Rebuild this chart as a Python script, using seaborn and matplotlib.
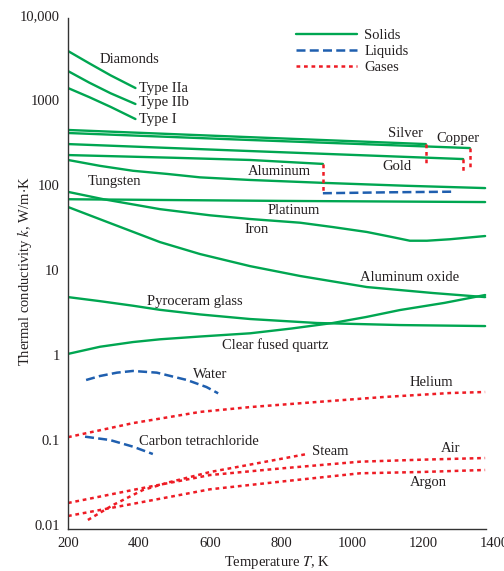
import numpy as np
import matplotlib
matplotlib.use("Agg")
import matplotlib.pyplot as plt
from matplotlib.lines import Line2D
from matplotlib.ticker import FixedLocator, FixedFormatter, NullLocator
import seaborn as sns

# ---------------- data ----------------
# Solids
iia_T = [200, 260, 320, 390]
iia_k = [3770, 2700, 1950, 1383]
iib_T = [200, 260, 320, 390]
iib_k = [2190, 1600, 1200, 897]
typeI_T = [200, 260, 320, 390]
typeI_k = [1383, 1080, 830, 597]

silver_T = [200, 700, 1208]
silver_k = [444, 367, 303]
silver_melt_T = [1208, 1208]
silver_melt_k = [303, 181]

copper_T = [200, 700, 1332]
copper_k = [409, 340, 272]
copper_melt_T = [1332, 1332]
copper_melt_k = [272, 158]

gold_T = [200, 700, 1313]
gold_k = [303, 252, 202]
gold_melt_T = [1313, 1313]
gold_melt_k = [202, 142]

alu_T = [200, 500, 713, 918]
alu_k = [225, 209, 197, 177]
alu_melt_T = [918, 918]
alu_melt_k = [177, 82]

tungsten_T = [200, 290, 383, 479, 572, 713, 918, 1150, 1375]
tungsten_k = [197, 168, 147, 135, 123, 114.6, 106, 98, 92]

platinum_T = [200, 800, 1375]
platinum_k = [68, 65, 63]

iron_T = [200, 300, 459, 600, 713, 854, 946, 1042, 1107, 1163, 1211, 1276, 1375]
iron_k = [83, 68, 52, 44, 39.8, 36, 32, 28, 24.7, 22.1, 22.1, 23.0, 25.1]

alox_T = [200, 318, 459, 572, 713, 854, 1042, 1228, 1375]
alox_k = [55.1, 35.7, 21.3, 15.4, 11.1, 8.5, 6.3, 5.36, 4.8]

pyro_T = [200, 290, 383, 459, 572, 713, 901, 1135, 1375]
pyro_k = [4.8, 4.3, 3.8, 3.4, 3.0, 2.65, 2.38, 2.25, 2.19]

quartz_T = [200, 290, 383, 459, 572, 713, 830, 946, 1040, 1135, 1260, 1375]
quartz_k = [1.03, 1.25, 1.42, 1.53, 1.65, 1.8, 2.05, 2.38, 2.8, 3.38, 4.1, 5.08]

# Liquids
alu_liq_T = [918, 1100, 1282]
alu_liq_k = [80, 82, 83.4]

water_T = [251, 290, 338, 383, 450, 535, 590, 623]
water_k = [0.508, 0.566, 0.62, 0.649, 0.62, 0.508, 0.42, 0.354]

ccl4_T = [248, 318, 383, 439]
ccl4_k = [0.1094, 0.1, 0.0835, 0.0684]

# Gases
helium_T = [200, 383, 572, 713, 901, 1087, 1276, 1375]
helium_k = [0.108, 0.158, 0.214, 0.244, 0.28, 0.32, 0.357, 0.367]

air_T = [200, 400, 600, 800, 1023, 1192, 1375]
air_k = [0.01815, 0.0267, 0.0387, 0.0463, 0.0556, 0.0586, 0.0614]

argon_T = [200, 400, 600, 800, 1023, 1192, 1375]
argon_k = [0.01276, 0.0183, 0.0263, 0.0324, 0.0406, 0.042, 0.0444]

steam_T = [256, 327, 411, 487, 600, 698, 873]
steam_k = [0.01146, 0.0172, 0.0258, 0.032, 0.042, 0.05, 0.0684]

y_ticks = [0.01, 0.1, 1, 10, 100, 1000, 10000]
y_tick_labels = ["0.01", "0.1", "1", "10", "100", "1000", "10,000"]
x_ticks = [200, 400, 600, 800, 1000, 1200, 1400]
x_tick_labels = ["200", "400", "600", "800", "1000", "1200", "1400"]

# ---------------- style ----------------
sns.set_theme(style="white")
plt.rcParams["font.family"] = ["Liberation Serif", "DejaVu Serif"]
plt.rcParams["mathtext.fontset"] = "stix"

FS = 10.5
GREEN = "#00a651"
BLUE = "#1f5faf"
RED = "#ee1c25"
TXT = "#231f20"
solid = dict(color=GREEN, lw=1.7, ls="-")
liquid = dict(color=BLUE, lw=1.8, ls=(0, (3.6, 1.7)))
gas = dict(color=RED, lw=1.8, ls=(0, (1.5, 1.5)))

fig = plt.figure(figsize=(5.04, 5.71), dpi=100)
ax = fig.add_axes([68 / 504, 42 / 571, 426 / 504, 514 / 571])

def draw(T, k, style):
    sns.lineplot(x=T, y=k, ax=ax, estimator=None, sort=False, **style)

for T, k in [(iia_T, iia_k), (iib_T, iib_k), (typeI_T, typeI_k),
             (silver_T, silver_k), (copper_T, copper_k), (gold_T, gold_k),
             (alu_T, alu_k), (tungsten_T, tungsten_k), (platinum_T, platinum_k),
             (iron_T, iron_k), (alox_T, alox_k), (pyro_T, pyro_k),
             (quartz_T, quartz_k)]:
    draw(T, k, solid)

for T, k in [(silver_melt_T, silver_melt_k), (copper_melt_T, copper_melt_k),
             (gold_melt_T, gold_melt_k), (alu_melt_T, alu_melt_k)]:
    draw(T, k, gas)

for T, k in [(alu_liq_T, alu_liq_k), (water_T, water_k), (ccl4_T, ccl4_k)]:
    draw(T, k, liquid)

for T, k in [(helium_T, helium_k), (air_T, air_k), (argon_T, argon_k),
             (steam_T, steam_k)]:
    draw(T, k, gas)

ax.set_yscale("log")
ax.set_xlim(200, 1400)
ax.set_ylim(10 ** (-2 - 4 / 85), 10000)
ax.yaxis.set_major_locator(FixedLocator(y_ticks))
ax.yaxis.set_major_formatter(FixedFormatter(y_tick_labels))
ax.yaxis.set_minor_locator(NullLocator())
ax.xaxis.set_major_locator(FixedLocator(x_ticks))
ax.xaxis.set_major_formatter(FixedFormatter(x_tick_labels))
ax.tick_params(length=0, labelsize=FS, colors=TXT, pad=6)
for lab in ax.get_xticklabels() + ax.get_yticklabels():
    lab.set_color(TXT)

sns.despine(ax=ax)
for s in ["left", "bottom"]:
    ax.spines[s].set_color("#333333")
    ax.spines[s].set_linewidth(1.0)
ax.spines["bottom"].set_bounds(200, 1378)
ax.spines["left"].set_bounds(10 ** (-2 - 4 / 85), 10 ** (4 - 3 / 85))

ax.set_ylabel(r"Thermal conductivity $k$, W/m$\cdot$K", fontsize=FS, color=TXT)
ax.set_xlabel(r"Temperature $T$, K", fontsize=FS, color=TXT)
ax.yaxis.set_label_coords(-0.08, 0.502)
ax.xaxis.set_label_coords(0.49, -0.048)

# curve labels (left edge, vertical centre)
labels = [
    ("Diamonds", 290, 3034), ("Type IIa", 400, 1383), ("Type IIb", 400, 922),
    ("Type I", 400, 597), ("Tungsten", 256, 111), ("Silver", 1101, 409),
    ("Copper", 1239, 357), ("Gold", 1085, 167), ("Aluminum", 708, 146),
    ("Platinum", 763, 50.8), ("Iron", 696, 30.3), ("Aluminum oxide", 1023, 8.27),
    ("Pyroceram glass", 423, 4.31), ("Clear fused quartz", 634, 1.31),
    ("Water", 552, 0.582), ("Carbon tetrachloride", 400, 0.0973),
    ("Helium", 1161, 0.481), ("Steam", 887, 0.0723), ("Air", 1251, 0.0805),
    ("Argon", 1163, 0.0312),
]
for txt, x, y in labels:
    ax.text(x, y, txt, ha="left", va="center", fontsize=FS, color=TXT)

handles = [Line2D([], [], **solid), Line2D([], [], **liquid), Line2D([], [], **gas)]
leg = ax.legend(handles, ["Solids", "Liquids", "Gases"], loc="upper left",
                bbox_to_anchor=(0.535, 0.973), frameon=False, fontsize=FS,
                handlelength=4.2, handletextpad=0.5, labelspacing=0.2,
                borderpad=0, borderaxespad=0)
for t in leg.get_texts():
    t.set_color(TXT)

fig.savefig("out.png", dpi=100)
